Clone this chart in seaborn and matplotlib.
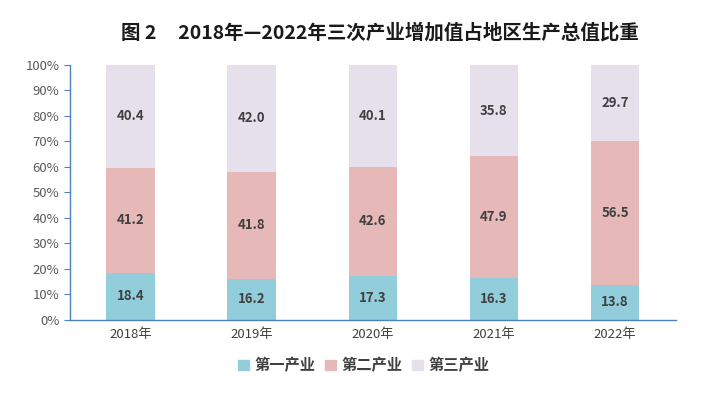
import matplotlib
matplotlib.use("Agg")
import matplotlib.pyplot as plt
import matplotlib.patches as mpatches
import pandas as pd
import seaborn as sns

# Data
years = ['2018年', '2019年', '2020年', '2021年', '2022年']
primary = [18.4, 16.2, 17.3, 16.3, 13.8]
secondary = [41.2, 41.8, 42.6, 47.9, 56.5]
tertiary = [40.4, 42.0, 40.1, 35.8, 29.7]
series_names = ['第一产业', '第二产业', '第三产业']
colors = ['#92CDDC', '#E6B9B8', '#E6E0EC']

sns.set_style('white')
plt.rcParams['font.family'] = ['Noto Sans CJK SC', 'DejaVu Sans']

df = pd.DataFrame({'year': years, 'p': primary, 's': secondary, 't': tertiary})
df['ps'] = df['p'] + df['s']
df['all'] = df['ps'] + df['t']

fig = plt.figure(figsize=(7.28, 3.93), dpi=100)
ax = fig.add_axes([0.096, 0.186, 0.832, 0.649])

# stacked bars: draw totals first, then overlay lower parts
for col, c in zip(['all', 'ps', 'p'], colors[::-1]):
    sns.barplot(data=df, x='year', y=col, color=c, width=0.4, saturation=1,
                linewidth=0, edgecolor='none', ax=ax)

# segment labels
for i in range(len(years)):
    mids = [primary[i] / 2,
            primary[i] + secondary[i] / 2,
            primary[i] + secondary[i] + tertiary[i] / 2]
    for v, m in zip([primary[i], secondary[i], tertiary[i]], mids):
        ax.text(i, m, f'{v:.1f}', ha='center', va='center',
                fontsize=9.5, fontweight='bold', color='#404040')

ax.set_ylim(0, 100)
ax.set_xlim(-0.5, 4.5)
ax.set_yticks(range(0, 101, 10))
ax.set_yticklabels([f'{t}%' for t in range(0, 101, 10)])
ax.set_xlabel('')
ax.set_ylabel('')
ax.tick_params(axis='y', labelsize=9.5, colors='#595959', length=4, direction='out', left=True, width=0.8)
ax.tick_params(axis='y', color='#4F81BD')
ax.tick_params(axis='x', labelsize=9.5, colors='#404040', length=0, pad=6)
for side in ['top', 'right']:
    ax.spines[side].set_visible(False)
for side in ['left', 'bottom']:
    ax.spines[side].set_color('#4F81BD')
    ax.spines[side].set_linewidth(1)

fig.text(0.522, 0.918, '图 2     2018年—2022年三次产业增加值占地区生产总值比重',
         ha='center', va='center', fontsize=14, fontweight='bold', color='#1a1a1a')

handles = [mpatches.Patch(color=c, label=n) for c, n in zip(colors, series_names)]
leg = fig.legend(handles=handles, loc='center', bbox_to_anchor=(0.5, 0.07), ncol=3,
                 frameon=False, fontsize=11, handlelength=0.7, handleheight=0.7,
                 handletextpad=0.4, columnspacing=0.6, labelcolor='#404040')
for t in leg.get_texts():
    t.set_fontweight('bold')

fig.savefig('out.png', dpi=100)
